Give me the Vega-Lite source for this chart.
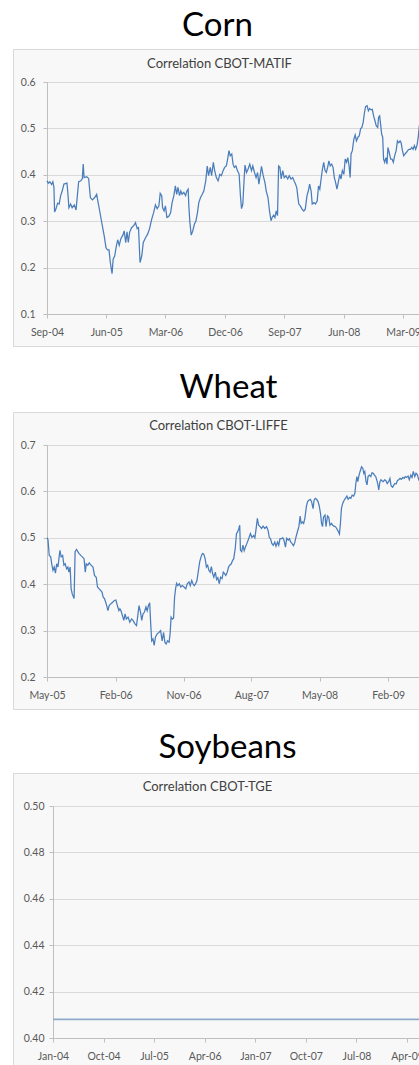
{
  "$schema": "https://vega.github.io/schema/vega-lite/v6.json",
  "padding": {"left": 12, "top": 9, "right": 0, "bottom": 0},
  "background": "white",
  "config": {
    "view": {"fill": "#f8f8f8", "stroke": "#d9d9d9", "strokeWidth": 1},
    "axis": {"labelFont": "Lato", "labelFontSize": 10.5, "labelColor": "#595959", "domainColor": "#bfbfbf", "tickColor": "#bfbfbf", "tickSize": 4, "gridColor": "#d9d9d9", "labelFlush": false, "labelOverlap": false, "labelBound": false, "titleFont": "Lato", "titleFontSize": 13, "titleFontWeight": "normal", "titleColor": "#404040"},
    "title": {"font": "Lato", "fontSize": 33, "fontWeight": "normal", "color": "#000000", "anchor": "middle", "baseline": "alphabetic"}
  },
  "datasets": {
    "corn": [
      {"date": "2004-09-01", "corr": 0.387}, {"date": "2004-09-07", "corr": 0.382}, {"date": "2004-09-14", "corr": 0.385}, {"date": "2004-09-22", "corr": 0.379}, {"date": "2004-09-28", "corr": 0.385}, {"date": "2004-10-03", "corr": 0.373}, {"date": "2004-10-06", "corr": 0.320}, {"date": "2004-10-12", "corr": 0.326}, {"date": "2004-10-20", "corr": 0.339}, {"date": "2004-10-27", "corr": 0.337}, {"date": "2004-11-03", "corr": 0.355}, {"date": "2004-11-10", "corr": 0.365}, {"date": "2004-11-18", "corr": 0.380}, {"date": "2004-12-02", "corr": 0.382}, {"date": "2004-12-06", "corr": 0.362}, {"date": "2004-12-11", "corr": 0.329}, {"date": "2004-12-19", "corr": 0.337}, {"date": "2004-12-26", "corr": 0.329},
      {"date": "2005-01-05", "corr": 0.335}, {"date": "2005-01-13", "corr": 0.324}, {"date": "2005-01-19", "corr": 0.355}, {"date": "2005-01-25", "corr": 0.385}, {"date": "2005-02-04", "corr": 0.387}, {"date": "2005-02-11", "corr": 0.392}, {"date": "2005-02-15", "corr": 0.423}, {"date": "2005-02-19", "corr": 0.394}, {"date": "2005-03-03", "corr": 0.396}, {"date": "2005-03-12", "corr": 0.392}, {"date": "2005-03-20", "corr": 0.351}, {"date": "2005-03-29", "corr": 0.346}, {"date": "2005-04-09", "corr": 0.351}, {"date": "2005-04-18", "corr": 0.358}, {"date": "2005-04-24", "corr": 0.342}, {"date": "2005-05-02", "corr": 0.322}, {"date": "2005-05-10", "corr": 0.301}, {"date": "2005-05-17", "corr": 0.283}, {"date": "2005-05-23", "corr": 0.268}, {"date": "2005-05-31", "corr": 0.243}, {"date": "2005-06-07", "corr": 0.238}, {"date": "2005-06-14", "corr": 0.238}, {"date": "2005-06-20", "corr": 0.211}, {"date": "2005-06-28", "corr": 0.187}, {"date": "2005-07-03", "corr": 0.218}, {"date": "2005-07-10", "corr": 0.225}, {"date": "2005-07-18", "corr": 0.247}, {"date": "2005-07-24", "corr": 0.260}, {"date": "2005-07-31", "corr": 0.248}, {"date": "2005-08-08", "corr": 0.263}, {"date": "2005-08-17", "corr": 0.270}, {"date": "2005-08-23", "corr": 0.279}, {"date": "2005-08-30", "corr": 0.254}, {"date": "2005-09-05", "corr": 0.277}, {"date": "2005-09-11", "corr": 0.254}, {"date": "2005-09-17", "corr": 0.276}, {"date": "2005-09-26", "corr": 0.286}, {"date": "2005-10-07", "corr": 0.291}, {"date": "2005-10-14", "corr": 0.297}, {"date": "2005-10-22", "corr": 0.284}, {"date": "2005-10-28", "corr": 0.286}, {"date": "2005-11-04", "corr": 0.211}, {"date": "2005-11-12", "corr": 0.225}, {"date": "2005-11-19", "corr": 0.254}, {"date": "2005-11-30", "corr": 0.265}, {"date": "2005-12-09", "corr": 0.272}, {"date": "2005-12-18", "corr": 0.284}, {"date": "2005-12-27", "corr": 0.303},
      {"date": "2006-01-06", "corr": 0.319}, {"date": "2006-01-14", "corr": 0.335}, {"date": "2006-01-22", "corr": 0.327}, {"date": "2006-01-30", "corr": 0.333}, {"date": "2006-02-05", "corr": 0.360}, {"date": "2006-02-12", "corr": 0.355}, {"date": "2006-02-16", "corr": 0.329}, {"date": "2006-02-23", "corr": 0.322}, {"date": "2006-03-01", "corr": 0.333}, {"date": "2006-03-08", "corr": 0.308}, {"date": "2006-03-16", "corr": 0.310}, {"date": "2006-03-25", "corr": 0.318}, {"date": "2006-04-01", "corr": 0.340}, {"date": "2006-04-09", "corr": 0.355}, {"date": "2006-04-16", "corr": 0.376}, {"date": "2006-04-22", "corr": 0.358}, {"date": "2006-04-28", "corr": 0.373}, {"date": "2006-05-05", "corr": 0.355}, {"date": "2006-05-11", "corr": 0.365}, {"date": "2006-05-17", "corr": 0.358}, {"date": "2006-05-25", "corr": 0.362}, {"date": "2006-06-02", "corr": 0.355}, {"date": "2006-06-08", "corr": 0.365}, {"date": "2006-06-14", "corr": 0.369}, {"date": "2006-06-17", "corr": 0.333}, {"date": "2006-06-22", "corr": 0.297}, {"date": "2006-06-28", "corr": 0.270}, {"date": "2006-07-05", "corr": 0.279}, {"date": "2006-07-13", "corr": 0.294}, {"date": "2006-07-20", "corr": 0.301}, {"date": "2006-07-27", "corr": 0.319}, {"date": "2006-08-02", "corr": 0.340}, {"date": "2006-08-10", "corr": 0.351}, {"date": "2006-08-18", "corr": 0.358}, {"date": "2006-08-25", "corr": 0.365}, {"date": "2006-09-03", "corr": 0.387}, {"date": "2006-09-10", "corr": 0.419}, {"date": "2006-09-16", "corr": 0.398}, {"date": "2006-09-24", "corr": 0.416}, {"date": "2006-09-30", "corr": 0.398}, {"date": "2006-10-08", "corr": 0.427}, {"date": "2006-10-14", "corr": 0.409}, {"date": "2006-10-22", "corr": 0.394}, {"date": "2006-10-30", "corr": 0.387}, {"date": "2006-11-07", "corr": 0.401}, {"date": "2006-11-14", "corr": 0.398}, {"date": "2006-11-22", "corr": 0.409}, {"date": "2006-11-29", "corr": 0.416}, {"date": "2006-12-07", "corr": 0.419}, {"date": "2006-12-13", "corr": 0.434}, {"date": "2006-12-19", "corr": 0.452}, {"date": "2006-12-25", "corr": 0.441},
      {"date": "2007-01-01", "corr": 0.445}, {"date": "2007-01-07", "corr": 0.423}, {"date": "2007-01-13", "corr": 0.416}, {"date": "2007-01-20", "corr": 0.419}, {"date": "2007-01-27", "corr": 0.409}, {"date": "2007-02-04", "corr": 0.401}, {"date": "2007-02-10", "corr": 0.355}, {"date": "2007-02-15", "corr": 0.327}, {"date": "2007-02-21", "corr": 0.337}, {"date": "2007-02-27", "corr": 0.391}, {"date": "2007-03-03", "corr": 0.421}, {"date": "2007-03-10", "corr": 0.405}, {"date": "2007-03-17", "corr": 0.412}, {"date": "2007-03-25", "corr": 0.423}, {"date": "2007-04-02", "corr": 0.409}, {"date": "2007-04-08", "corr": 0.419}, {"date": "2007-04-16", "corr": 0.405}, {"date": "2007-04-23", "corr": 0.394}, {"date": "2007-04-30", "corr": 0.405}, {"date": "2007-05-06", "corr": 0.380}, {"date": "2007-05-12", "corr": 0.398}, {"date": "2007-05-18", "corr": 0.418}, {"date": "2007-05-26", "corr": 0.398}, {"date": "2007-06-03", "corr": 0.383}, {"date": "2007-06-09", "corr": 0.365}, {"date": "2007-06-17", "corr": 0.351}, {"date": "2007-06-24", "corr": 0.322}, {"date": "2007-07-01", "corr": 0.301}, {"date": "2007-07-06", "corr": 0.308}, {"date": "2007-07-13", "corr": 0.313}, {"date": "2007-07-19", "corr": 0.308}, {"date": "2007-07-25", "corr": 0.322}, {"date": "2007-07-31", "corr": 0.312}, {"date": "2007-08-05", "corr": 0.419}, {"date": "2007-08-11", "corr": 0.416}, {"date": "2007-08-17", "corr": 0.391}, {"date": "2007-08-24", "corr": 0.409}, {"date": "2007-08-31", "corr": 0.394}, {"date": "2007-09-08", "corr": 0.398}, {"date": "2007-09-16", "corr": 0.391}, {"date": "2007-09-23", "corr": 0.398}, {"date": "2007-10-01", "corr": 0.391}, {"date": "2007-10-09", "corr": 0.394}, {"date": "2007-10-16", "corr": 0.386}, {"date": "2007-10-22", "corr": 0.380}, {"date": "2007-10-28", "corr": 0.372}, {"date": "2007-11-01", "corr": 0.355}, {"date": "2007-11-06", "corr": 0.337}, {"date": "2007-11-13", "corr": 0.333}, {"date": "2007-11-21", "corr": 0.326}, {"date": "2007-11-29", "corr": 0.322}, {"date": "2007-12-06", "corr": 0.326}, {"date": "2007-12-14", "corr": 0.355}, {"date": "2007-12-20", "corr": 0.365}, {"date": "2007-12-26", "corr": 0.380},
      {"date": "2008-01-02", "corr": 0.365}, {"date": "2008-01-07", "corr": 0.337}, {"date": "2008-01-15", "corr": 0.340}, {"date": "2008-01-22", "corr": 0.337}, {"date": "2008-01-30", "corr": 0.344}, {"date": "2008-02-05", "corr": 0.376}, {"date": "2008-02-11", "corr": 0.369}, {"date": "2008-02-17", "corr": 0.391}, {"date": "2008-02-23", "corr": 0.412}, {"date": "2008-02-29", "corr": 0.427}, {"date": "2008-03-06", "corr": 0.409}, {"date": "2008-03-12", "corr": 0.405}, {"date": "2008-03-18", "corr": 0.416}, {"date": "2008-03-24", "corr": 0.430}, {"date": "2008-03-30", "corr": 0.419}, {"date": "2008-04-06", "corr": 0.423}, {"date": "2008-04-12", "corr": 0.416}, {"date": "2008-04-18", "corr": 0.394}, {"date": "2008-04-24", "corr": 0.383}, {"date": "2008-04-30", "corr": 0.369}, {"date": "2008-05-06", "corr": 0.383}, {"date": "2008-05-13", "corr": 0.401}, {"date": "2008-05-19", "corr": 0.391}, {"date": "2008-05-25", "corr": 0.409}, {"date": "2008-06-01", "corr": 0.401}, {"date": "2008-06-07", "corr": 0.434}, {"date": "2008-06-13", "corr": 0.427}, {"date": "2008-06-19", "corr": 0.437}, {"date": "2008-06-25", "corr": 0.419}, {"date": "2008-06-30", "corr": 0.394}, {"date": "2008-07-04", "corr": 0.445}, {"date": "2008-07-10", "corr": 0.452}, {"date": "2008-07-17", "corr": 0.477}, {"date": "2008-07-23", "corr": 0.486}, {"date": "2008-07-29", "corr": 0.473}, {"date": "2008-08-05", "corr": 0.481}, {"date": "2008-08-11", "corr": 0.484}, {"date": "2008-08-17", "corr": 0.499}, {"date": "2008-08-23", "corr": 0.502}, {"date": "2008-08-29", "corr": 0.513}, {"date": "2008-09-03", "corr": 0.531}, {"date": "2008-09-09", "corr": 0.547}, {"date": "2008-09-16", "corr": 0.549}, {"date": "2008-09-22", "corr": 0.538}, {"date": "2008-09-28", "corr": 0.543}, {"date": "2008-10-04", "corr": 0.540}, {"date": "2008-10-10", "corr": 0.541}, {"date": "2008-10-16", "corr": 0.527}, {"date": "2008-10-22", "corr": 0.517}, {"date": "2008-10-28", "corr": 0.506}, {"date": "2008-11-04", "corr": 0.502}, {"date": "2008-11-08", "corr": 0.524}, {"date": "2008-11-13", "corr": 0.527}, {"date": "2008-11-18", "corr": 0.506}, {"date": "2008-11-22", "corr": 0.488}, {"date": "2008-11-27", "corr": 0.481}, {"date": "2008-12-01", "corr": 0.434}, {"date": "2008-12-06", "corr": 0.427}, {"date": "2008-12-12", "corr": 0.437}, {"date": "2008-12-17", "corr": 0.423}, {"date": "2008-12-21", "corr": 0.459}, {"date": "2008-12-27", "corr": 0.448},
      {"date": "2009-01-03", "corr": 0.434}, {"date": "2009-01-09", "corr": 0.434}, {"date": "2009-01-15", "corr": 0.427}, {"date": "2009-01-21", "corr": 0.441}, {"date": "2009-01-28", "corr": 0.452}, {"date": "2009-02-03", "corr": 0.473}, {"date": "2009-02-09", "corr": 0.469}, {"date": "2009-02-15", "corr": 0.473}, {"date": "2009-02-20", "corr": 0.469}, {"date": "2009-02-26", "corr": 0.452}, {"date": "2009-03-04", "corr": 0.441}, {"date": "2009-03-10", "corr": 0.445}, {"date": "2009-03-16", "corr": 0.448}, {"date": "2009-03-22", "corr": 0.452}, {"date": "2009-03-28", "corr": 0.455}, {"date": "2009-04-04", "corr": 0.455}, {"date": "2009-04-10", "corr": 0.459}, {"date": "2009-04-16", "corr": 0.455}, {"date": "2009-04-22", "corr": 0.463}, {"date": "2009-04-28", "corr": 0.455}, {"date": "2009-05-04", "corr": 0.463}, {"date": "2009-05-10", "corr": 0.481}, {"date": "2009-05-15", "corr": 0.506}, {"date": "2009-05-19", "corr": 0.509}
    ],
    "wheat": [
      {"date": "2005-05-01", "corr": 0.500}, {"date": "2005-05-05", "corr": 0.496}, {"date": "2005-05-10", "corr": 0.462}, {"date": "2005-05-16", "corr": 0.459}, {"date": "2005-05-20", "corr": 0.444}, {"date": "2005-05-25", "corr": 0.430}, {"date": "2005-05-30", "corr": 0.437}, {"date": "2005-06-04", "corr": 0.424}, {"date": "2005-06-09", "corr": 0.444}, {"date": "2005-06-14", "corr": 0.437}, {"date": "2005-06-18", "corr": 0.455}, {"date": "2005-06-22", "corr": 0.473}, {"date": "2005-06-27", "corr": 0.459}, {"date": "2005-07-03", "corr": 0.462}, {"date": "2005-07-08", "corr": 0.441}, {"date": "2005-07-13", "corr": 0.444}, {"date": "2005-07-19", "corr": 0.433}, {"date": "2005-07-24", "corr": 0.437}, {"date": "2005-07-28", "corr": 0.426}, {"date": "2005-08-02", "corr": 0.437}, {"date": "2005-08-06", "corr": 0.390}, {"date": "2005-08-11", "corr": 0.378}, {"date": "2005-08-18", "corr": 0.369}, {"date": "2005-08-22", "corr": 0.470}, {"date": "2005-08-28", "corr": 0.475}, {"date": "2005-09-02", "corr": 0.470}, {"date": "2005-09-07", "corr": 0.466}, {"date": "2005-09-14", "corr": 0.462}, {"date": "2005-09-20", "corr": 0.459}, {"date": "2005-09-27", "corr": 0.455}, {"date": "2005-10-02", "corr": 0.426}, {"date": "2005-10-06", "corr": 0.444}, {"date": "2005-10-12", "corr": 0.441}, {"date": "2005-10-18", "corr": 0.446}, {"date": "2005-10-25", "corr": 0.441}, {"date": "2005-11-02", "corr": 0.437}, {"date": "2005-11-08", "corr": 0.419}, {"date": "2005-11-15", "corr": 0.415}, {"date": "2005-11-20", "corr": 0.394}, {"date": "2005-11-27", "corr": 0.390}, {"date": "2005-12-02", "corr": 0.387}, {"date": "2005-12-08", "corr": 0.383}, {"date": "2005-12-13", "corr": 0.372}, {"date": "2005-12-18", "corr": 0.369}, {"date": "2005-12-25", "corr": 0.358},
      {"date": "2006-01-01", "corr": 0.343}, {"date": "2006-01-06", "corr": 0.354}, {"date": "2006-01-13", "corr": 0.358}, {"date": "2006-01-20", "corr": 0.361}, {"date": "2006-01-27", "corr": 0.365}, {"date": "2006-02-02", "corr": 0.366}, {"date": "2006-02-08", "corr": 0.354}, {"date": "2006-02-14", "corr": 0.343}, {"date": "2006-02-18", "corr": 0.347}, {"date": "2006-02-23", "corr": 0.342}, {"date": "2006-02-28", "corr": 0.333}, {"date": "2006-03-06", "corr": 0.322}, {"date": "2006-03-11", "corr": 0.336}, {"date": "2006-03-16", "corr": 0.325}, {"date": "2006-03-23", "corr": 0.329}, {"date": "2006-03-30", "corr": 0.318}, {"date": "2006-04-06", "corr": 0.325}, {"date": "2006-04-12", "corr": 0.322}, {"date": "2006-04-19", "corr": 0.315}, {"date": "2006-04-26", "corr": 0.311}, {"date": "2006-05-02", "corr": 0.336}, {"date": "2006-05-06", "corr": 0.354}, {"date": "2006-05-12", "corr": 0.340}, {"date": "2006-05-17", "corr": 0.322}, {"date": "2006-05-22", "corr": 0.336}, {"date": "2006-05-28", "corr": 0.340}, {"date": "2006-06-03", "corr": 0.351}, {"date": "2006-06-08", "corr": 0.343}, {"date": "2006-06-13", "corr": 0.354}, {"date": "2006-06-18", "corr": 0.360}, {"date": "2006-06-22", "corr": 0.315}, {"date": "2006-06-26", "corr": 0.278}, {"date": "2006-07-01", "corr": 0.282}, {"date": "2006-07-06", "corr": 0.268}, {"date": "2006-07-11", "corr": 0.286}, {"date": "2006-07-18", "corr": 0.293}, {"date": "2006-07-25", "corr": 0.296}, {"date": "2006-08-01", "corr": 0.300}, {"date": "2006-08-07", "corr": 0.278}, {"date": "2006-08-13", "corr": 0.296}, {"date": "2006-08-18", "corr": 0.275}, {"date": "2006-08-23", "corr": 0.271}, {"date": "2006-08-29", "corr": 0.278}, {"date": "2006-09-04", "corr": 0.275}, {"date": "2006-09-08", "corr": 0.293}, {"date": "2006-09-12", "corr": 0.329}, {"date": "2006-09-17", "corr": 0.325}, {"date": "2006-09-22", "corr": 0.327}, {"date": "2006-09-26", "corr": 0.372}, {"date": "2006-09-30", "corr": 0.390}, {"date": "2006-10-04", "corr": 0.402}, {"date": "2006-10-09", "corr": 0.397}, {"date": "2006-10-15", "corr": 0.401}, {"date": "2006-10-21", "corr": 0.394}, {"date": "2006-10-27", "corr": 0.397}, {"date": "2006-11-03", "corr": 0.394}, {"date": "2006-11-10", "corr": 0.390}, {"date": "2006-11-16", "corr": 0.401}, {"date": "2006-11-23", "corr": 0.405}, {"date": "2006-11-28", "corr": 0.397}, {"date": "2006-12-04", "corr": 0.408}, {"date": "2006-12-09", "corr": 0.401}, {"date": "2006-12-14", "corr": 0.397}, {"date": "2006-12-20", "corr": 0.401}, {"date": "2006-12-25", "corr": 0.408}, {"date": "2006-12-30", "corr": 0.426},
      {"date": "2007-01-05", "corr": 0.448}, {"date": "2007-01-11", "corr": 0.460}, {"date": "2007-01-16", "corr": 0.466}, {"date": "2007-01-21", "corr": 0.465}, {"date": "2007-01-27", "corr": 0.455}, {"date": "2007-02-01", "corr": 0.437}, {"date": "2007-02-06", "corr": 0.441}, {"date": "2007-02-11", "corr": 0.430}, {"date": "2007-02-16", "corr": 0.426}, {"date": "2007-02-21", "corr": 0.438}, {"date": "2007-02-26", "corr": 0.423}, {"date": "2007-03-03", "corr": 0.415}, {"date": "2007-03-09", "corr": 0.426}, {"date": "2007-03-14", "corr": 0.410}, {"date": "2007-03-19", "corr": 0.414}, {"date": "2007-03-25", "corr": 0.401}, {"date": "2007-03-30", "corr": 0.415}, {"date": "2007-04-05", "corr": 0.412}, {"date": "2007-04-10", "corr": 0.426}, {"date": "2007-04-15", "corr": 0.423}, {"date": "2007-04-20", "corr": 0.419}, {"date": "2007-04-26", "corr": 0.426}, {"date": "2007-05-01", "corr": 0.437}, {"date": "2007-05-06", "corr": 0.441}, {"date": "2007-05-12", "corr": 0.444}, {"date": "2007-05-17", "corr": 0.451}, {"date": "2007-05-22", "corr": 0.455}, {"date": "2007-05-28", "corr": 0.477}, {"date": "2007-06-02", "corr": 0.509}, {"date": "2007-06-06", "corr": 0.512}, {"date": "2007-06-11", "corr": 0.519}, {"date": "2007-06-15", "corr": 0.527}, {"date": "2007-06-18", "corr": 0.473}, {"date": "2007-06-23", "corr": 0.470}, {"date": "2007-06-28", "corr": 0.484}, {"date": "2007-07-03", "corr": 0.472}, {"date": "2007-07-08", "corr": 0.480}, {"date": "2007-07-14", "corr": 0.488}, {"date": "2007-07-21", "corr": 0.498}, {"date": "2007-07-28", "corr": 0.509}, {"date": "2007-08-03", "corr": 0.501}, {"date": "2007-08-10", "corr": 0.505}, {"date": "2007-08-15", "corr": 0.500}, {"date": "2007-08-21", "corr": 0.524}, {"date": "2007-08-25", "corr": 0.542}, {"date": "2007-08-30", "corr": 0.527}, {"date": "2007-09-05", "corr": 0.524}, {"date": "2007-09-11", "corr": 0.520}, {"date": "2007-09-17", "corr": 0.525}, {"date": "2007-09-24", "corr": 0.520}, {"date": "2007-10-01", "corr": 0.524}, {"date": "2007-10-07", "corr": 0.516}, {"date": "2007-10-12", "corr": 0.501}, {"date": "2007-10-17", "corr": 0.498}, {"date": "2007-10-22", "corr": 0.488}, {"date": "2007-10-28", "corr": 0.484}, {"date": "2007-11-03", "corr": 0.491}, {"date": "2007-11-08", "corr": 0.482}, {"date": "2007-11-14", "corr": 0.491}, {"date": "2007-11-19", "corr": 0.484}, {"date": "2007-11-24", "corr": 0.498}, {"date": "2007-11-30", "corr": 0.498}, {"date": "2007-12-05", "corr": 0.500}, {"date": "2007-12-10", "corr": 0.495}, {"date": "2007-12-16", "corr": 0.480}, {"date": "2007-12-21", "corr": 0.499}, {"date": "2007-12-27", "corr": 0.495},
      {"date": "2008-01-01", "corr": 0.498}, {"date": "2008-01-06", "corr": 0.491}, {"date": "2008-01-11", "corr": 0.488}, {"date": "2008-01-17", "corr": 0.483}, {"date": "2008-01-22", "corr": 0.489}, {"date": "2008-01-27", "corr": 0.501}, {"date": "2008-02-02", "corr": 0.513}, {"date": "2008-02-08", "corr": 0.524}, {"date": "2008-02-13", "corr": 0.547}, {"date": "2008-02-17", "corr": 0.531}, {"date": "2008-02-22", "corr": 0.534}, {"date": "2008-02-27", "corr": 0.531}, {"date": "2008-03-03", "corr": 0.542}, {"date": "2008-03-09", "corr": 0.567}, {"date": "2008-03-14", "corr": 0.578}, {"date": "2008-03-19", "corr": 0.581}, {"date": "2008-03-25", "corr": 0.583}, {"date": "2008-03-30", "corr": 0.578}, {"date": "2008-04-05", "corr": 0.563}, {"date": "2008-04-09", "corr": 0.581}, {"date": "2008-04-14", "corr": 0.585}, {"date": "2008-04-19", "corr": 0.583}, {"date": "2008-04-25", "corr": 0.578}, {"date": "2008-04-30", "corr": 0.568}, {"date": "2008-05-05", "corr": 0.552}, {"date": "2008-05-09", "corr": 0.531}, {"date": "2008-05-13", "corr": 0.524}, {"date": "2008-05-17", "corr": 0.545}, {"date": "2008-05-23", "corr": 0.549}, {"date": "2008-05-27", "corr": 0.524}, {"date": "2008-06-02", "corr": 0.547}, {"date": "2008-06-07", "corr": 0.544}, {"date": "2008-06-12", "corr": 0.527}, {"date": "2008-06-18", "corr": 0.531}, {"date": "2008-06-23", "corr": 0.527}, {"date": "2008-06-28", "corr": 0.525}, {"date": "2008-07-04", "corr": 0.524}, {"date": "2008-07-09", "corr": 0.520}, {"date": "2008-07-14", "corr": 0.515}, {"date": "2008-07-20", "corr": 0.508}, {"date": "2008-07-24", "corr": 0.531}, {"date": "2008-07-28", "corr": 0.563}, {"date": "2008-08-02", "corr": 0.574}, {"date": "2008-08-08", "corr": 0.581}, {"date": "2008-08-13", "corr": 0.585}, {"date": "2008-08-19", "corr": 0.590}, {"date": "2008-08-24", "corr": 0.583}, {"date": "2008-08-30", "corr": 0.587}, {"date": "2008-09-04", "corr": 0.585}, {"date": "2008-09-09", "corr": 0.592}, {"date": "2008-09-15", "corr": 0.590}, {"date": "2008-09-20", "corr": 0.596}, {"date": "2008-09-24", "corr": 0.617}, {"date": "2008-09-28", "corr": 0.632}, {"date": "2008-10-02", "corr": 0.621}, {"date": "2008-10-06", "corr": 0.633}, {"date": "2008-10-11", "corr": 0.643}, {"date": "2008-10-17", "corr": 0.653}, {"date": "2008-10-22", "corr": 0.650}, {"date": "2008-10-26", "corr": 0.639}, {"date": "2008-10-30", "corr": 0.643}, {"date": "2008-11-04", "corr": 0.621}, {"date": "2008-11-08", "corr": 0.614}, {"date": "2008-11-12", "corr": 0.632}, {"date": "2008-11-17", "corr": 0.635}, {"date": "2008-11-23", "corr": 0.632}, {"date": "2008-11-28", "corr": 0.640}, {"date": "2008-12-03", "corr": 0.639}, {"date": "2008-12-08", "corr": 0.635}, {"date": "2008-12-13", "corr": 0.632}, {"date": "2008-12-17", "corr": 0.625}, {"date": "2008-12-21", "corr": 0.617}, {"date": "2008-12-25", "corr": 0.603}, {"date": "2008-12-30", "corr": 0.621},
      {"date": "2009-01-03", "corr": 0.625}, {"date": "2009-01-07", "corr": 0.623}, {"date": "2009-01-12", "corr": 0.621}, {"date": "2009-01-18", "corr": 0.625}, {"date": "2009-01-23", "corr": 0.623}, {"date": "2009-01-28", "corr": 0.617}, {"date": "2009-02-03", "corr": 0.621}, {"date": "2009-02-08", "corr": 0.628}, {"date": "2009-02-13", "corr": 0.612}, {"date": "2009-02-19", "corr": 0.609}, {"date": "2009-02-24", "corr": 0.614}, {"date": "2009-02-28", "corr": 0.617}, {"date": "2009-03-05", "corr": 0.616}, {"date": "2009-03-10", "corr": 0.623}, {"date": "2009-03-15", "corr": 0.625}, {"date": "2009-03-21", "corr": 0.628}, {"date": "2009-03-26", "corr": 0.626}, {"date": "2009-04-01", "corr": 0.630}, {"date": "2009-04-06", "corr": 0.628}, {"date": "2009-04-11", "corr": 0.632}, {"date": "2009-04-16", "corr": 0.630}, {"date": "2009-04-22", "corr": 0.633}, {"date": "2009-04-27", "corr": 0.625}, {"date": "2009-05-03", "corr": 0.635}, {"date": "2009-05-08", "corr": 0.630}, {"date": "2009-05-13", "corr": 0.643}, {"date": "2009-05-19", "corr": 0.632}, {"date": "2009-05-24", "corr": 0.639}, {"date": "2009-05-30", "corr": 0.635}, {"date": "2009-06-04", "corr": 0.625}, {"date": "2009-06-09", "corr": 0.628}
    ],
    "soy": [
      {"date": "2004-01-01", "corr": 0.408}, {"date": "2009-06-30", "corr": 0.408}
    ]
  },
  "spacing": 24,
  "vconcat": [
    {
      "width": 407, "height": 297,
      "title": {"text": "Corn", "offset": 6, "dx": 1},
      "data": {"name": "corn"},
      "layer": [
        {
          "mark": {"type": "line", "color": "#4a7dbb", "strokeWidth": 1.25, "clip": true},
          "encoding": {
            "x": {"field": "date", "type": "temporal",
              "scale": {"type": "utc", "domain": [{"year": 2004, "month": 9, "date": 1, "utc": true}, {"year": 2009, "month": 5, "date": 18, "utc": true}], "range": [34, 407]},
              "axis": {"orient": "bottom", "title": null, "offset": -32, "grid": false, "format": "%b-%y", "labelPadding": 9,
                "values": [{"year": 2004, "month": 9, "date": 1, "utc": true}, {"year": 2005, "month": 6, "date": 1, "utc": true}, {"year": 2006, "month": 3, "date": 1, "utc": true}, {"year": 2006, "month": 12, "date": 1, "utc": true}, {"year": 2007, "month": 9, "date": 1, "utc": true}, {"year": 2008, "month": 6, "date": 1, "utc": true}, {"year": 2009, "month": 3, "date": 1, "utc": true}]}},
            "y": {"field": "corr", "type": "quantitative",
              "scale": {"domain": [0.1, 0.6], "range": [265, 33], "nice": false, "zero": false},
              "axis": {"title": null, "offset": -34, "grid": true, "format": ".1f", "labelPadding": 8, "values": [0.1, 0.2, 0.3, 0.4, 0.5, 0.6]}}
          }
        },
        {
          "mark": {"type": "line", "opacity": 0, "clip": true},
          "encoding": {
            "x": {"field": "date", "type": "temporal",
              "axis": {"orient": "top", "title": "Correlation CBOT-MATIF", "offset": -18, "titlePadding": 0, "titleBaseline": "alphabetic", "titleX": 206, "labels": false, "ticks": false, "domain": false, "grid": false}},
            "y": {"field": "corr", "type": "quantitative"}
          }
        }
      ],
      "resolve": {"axis": {"x": "independent"}}
    },
    {
      "spacing": 21,
      "vconcat": [
        {
          "width": 407, "height": 297,
          "title": {"text": "Wheat", "offset": 7, "dx": 12},
          "data": {"name": "wheat"},
          "layer": [
            {
              "mark": {"type": "line", "color": "#4a7dbb", "strokeWidth": 1.25, "clip": true},
              "encoding": {
                "x": {"field": "date", "type": "temporal",
                  "scale": {"type": "utc", "domain": [{"year": 2005, "month": 5, "date": 1, "utc": true}, {"year": 2009, "month": 6, "date": 9, "utc": true}], "range": [34, 407]},
                  "axis": {"orient": "bottom", "title": null, "offset": -32, "grid": false, "format": "%b-%y", "labelPadding": 9,
                    "values": [{"year": 2005, "month": 5, "date": 1, "utc": true}, {"year": 2006, "month": 2, "date": 1, "utc": true}, {"year": 2006, "month": 11, "date": 1, "utc": true}, {"year": 2007, "month": 8, "date": 1, "utc": true}, {"year": 2008, "month": 5, "date": 1, "utc": true}, {"year": 2009, "month": 2, "date": 1, "utc": true}]}},
                "y": {"field": "corr", "type": "quantitative",
                  "scale": {"domain": [0.2, 0.7], "range": [265, 33], "nice": false, "zero": false},
                  "axis": {"title": null, "offset": -34, "grid": true, "format": ".1f", "labelPadding": 8, "values": [0.2, 0.3, 0.4, 0.5, 0.6, 0.7]}}
              }
            },
            {
              "mark": {"type": "line", "opacity": 0, "clip": true},
              "encoding": {
                "x": {"field": "date", "type": "temporal",
                  "axis": {"orient": "top", "title": "Correlation CBOT-LIFFE", "offset": -17, "titlePadding": 0, "titleBaseline": "alphabetic", "titleX": 205, "labels": false, "ticks": false, "domain": false, "grid": false}},
                "y": {"field": "corr", "type": "quantitative"}
              }
            }
          ],
          "resolve": {"axis": {"x": "independent"}}
        },
        {
          "width": 407, "height": 293,
          "title": {"text": "Soybeans", "offset": 8, "dx": 11},
          "data": {"name": "soy"},
          "layer": [
            {
              "mark": {"type": "line", "color": "#8eaac8", "strokeWidth": 1.8, "clip": true},
              "encoding": {
                "x": {"field": "date", "type": "temporal",
                  "scale": {"type": "utc", "domain": [{"year": 2004, "month": 1, "date": 1, "utc": true}, {"year": 2009, "month": 6, "date": 10, "utc": true}], "range": [40, 407]},
                  "axis": {"orient": "bottom", "title": null, "offset": -28, "grid": false, "format": "%b-%y", "labelPadding": 9,
                    "values": [{"year": 2004, "month": 1, "date": 1, "utc": true}, {"year": 2004, "month": 10, "date": 1, "utc": true}, {"year": 2005, "month": 7, "date": 1, "utc": true}, {"year": 2006, "month": 4, "date": 1, "utc": true}, {"year": 2007, "month": 1, "date": 1, "utc": true}, {"year": 2007, "month": 10, "date": 1, "utc": true}, {"year": 2008, "month": 7, "date": 1, "utc": true}, {"year": 2009, "month": 4, "date": 1, "utc": true}]}},
                "y": {"field": "corr", "type": "quantitative",
                  "scale": {"domain": [0.4, 0.5], "range": [265, 33], "nice": false, "zero": false},
                  "axis": {"title": null, "offset": -40, "grid": true, "format": ".2f", "labelPadding": 5, "values": [0.4, 0.42, 0.44, 0.46, 0.48, 0.5]}}
              }
            },
            {
              "mark": {"type": "line", "opacity": 0, "clip": true},
              "encoding": {
                "x": {"field": "date", "type": "temporal",
                  "axis": {"orient": "top", "title": "Correlation CBOT-TGE", "offset": -17, "titlePadding": 0, "titleBaseline": "alphabetic", "titleX": 194, "labels": false, "ticks": false, "domain": false, "grid": false}},
                "y": {"field": "corr", "type": "quantitative"}
              }
            }
          ],
          "resolve": {"axis": {"x": "independent"}}
        }
      ]
    }
  ]
}
